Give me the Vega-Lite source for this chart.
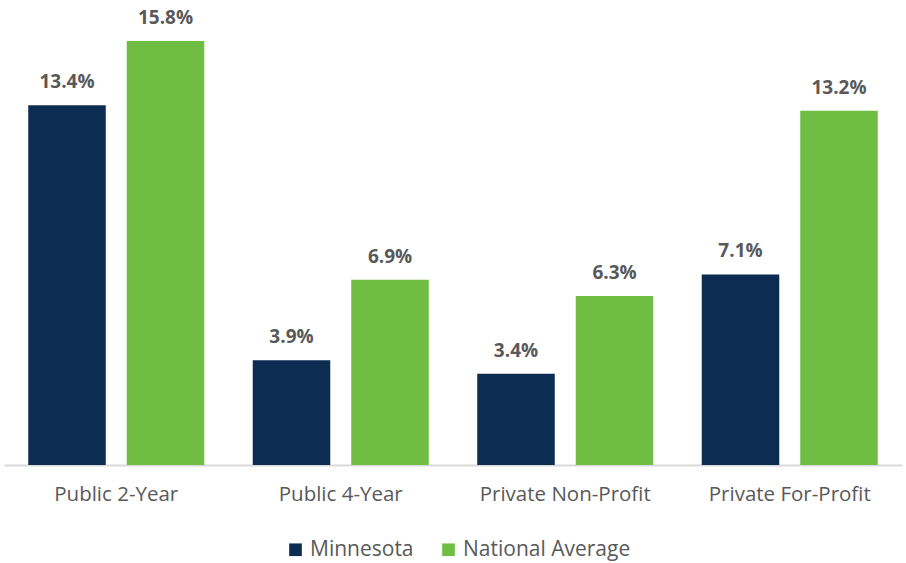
{
  "$schema": "https://vega.github.io/schema/vega-lite/v6.json",
  "width": 898,
  "height": 465,
  "autosize": {"type": "none"},
  "padding": {"left": 4, "top": 0, "right": 4, "bottom": 98},
  "background": "white",
  "config": {
    "view": {"stroke": null},
    "font": "Open Sans"
  },
  "data": {
    "values": [
      {"type": "Public 2-Year", "series": "Minnesota", "value": 0.134},
      {"type": "Public 2-Year", "series": "National Average", "value": 0.158},
      {"type": "Public 4-Year", "series": "Minnesota", "value": 0.039},
      {"type": "Public 4-Year", "series": "National Average", "value": 0.069},
      {"type": "Private Non-Profit", "series": "Minnesota", "value": 0.034},
      {"type": "Private Non-Profit", "series": "National Average", "value": 0.063},
      {"type": "Private For-Profit", "series": "Minnesota", "value": 0.071},
      {"type": "Private For-Profit", "series": "National Average", "value": 0.132}
    ]
  },
  "encoding": {
    "x": {
      "field": "type",
      "type": "nominal",
      "sort": ["Public 2-Year", "Public 4-Year", "Private Non-Profit", "Private For-Profit"],
      "scale": {"paddingInner": 0, "paddingOuter": 0},
      "axis": {
        "title": null,
        "labelAngle": 0,
        "labelFontSize": 20.5,
        "labelColor": "#595959",
        "labelPadding": 19,
        "ticks": false,
        "domainColor": "#d9d9d9",
        "domainWidth": 2
      }
    },
    "xOffset": {
      "field": "series",
      "type": "nominal",
      "scale": {"paddingInner": 0.213, "paddingOuter": 0.246}
    },
    "y": {
      "field": "value",
      "type": "quantitative",
      "scale": {"domain": [0, 0.17325], "nice": false},
      "axis": null
    }
  },
  "layer": [
    {
      "mark": {"type": "bar"},
      "encoding": {
        "color": {
          "field": "series",
          "type": "nominal",
          "scale": {"domain": ["Minnesota", "National Average"], "range": ["#0c2c52", "#70bd44"]},
          "legend": {
            "title": null,
            "orient": "none",
            "legendX": 281,
            "legendY": 539,
            "direction": "horizontal",
            "symbolType": "square",
            "symbolSize": 160,
            "symbolStrokeWidth": 0,
            "labelFontSize": 21,
            "labelColor": "#595959",
            "labelOffset": 4,
            "labelLimit": 300,
            "columnPadding": 24
          }
        }
      }
    },
    {
      "mark": {"type": "text", "baseline": "bottom", "dy": -13, "fontSize": 19, "fontWeight": "bold", "color": "#595959"},
      "encoding": {
        "text": {"field": "value", "type": "quantitative", "format": ".1%"},
        "detail": {"field": "series"}
      }
    }
  ]
}
